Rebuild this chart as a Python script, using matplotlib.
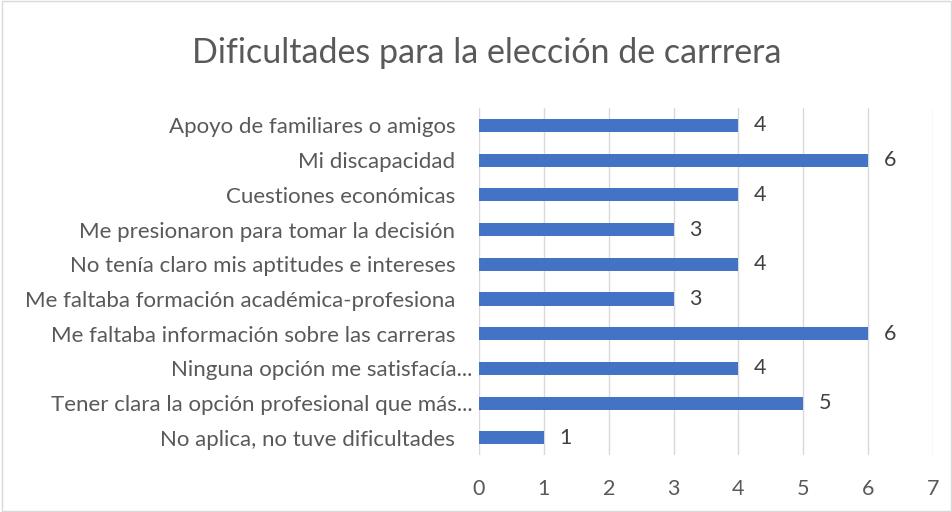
import matplotlib.pyplot as plt
import matplotlib.transforms as mtransforms

# Data
categories = [
    "Apoyo de familiares o amigos",
    "Mi discapacidad",
    "Cuestiones económicas",
    "Me presionaron para tomar la decisión",
    "No tenía claro mis aptitudes e intereses",
    "Me faltaba formación académica-profesiona",
    "Me faltaba información sobre las carreras",
    "Ninguna opción me satisfacía...",
    "Tener clara la opción profesional que más...",
    "No aplica, no tuve dificultades",
]
values = [4, 6, 4, 3, 4, 3, 6, 4, 5, 1]
xticks = [0, 1, 2, 3, 4, 5, 6, 7]

plt.rcParams['font.family'] = ['Lato', 'DejaVu Sans']

fig = plt.figure(figsize=(9.53, 5.12), dpi=100)
ax = fig.add_axes([0.5026, 0.111, 0.4764, 0.678])

y = list(range(len(categories)))
ax.barh(y, values, height=0.38, color='#4472C4', zorder=3)

for yi, v in zip(y, values):
    ax.text(v + 0.24, yi, str(v), va='center', ha='left', fontsize=15.5, color='#404040')

ax.set_ylim(len(categories) - 0.5, -0.5)
ax.set_xlim(0, 7)
ax.set_xticks(xticks)
ax.set_yticks(y)
ax.set_yticklabels(categories)
ax.tick_params(axis='y', length=0, pad=17, labelsize=16, labelcolor='#595959')
ax.tick_params(axis='x', length=0, pad=17, labelsize=15.5, labelcolor='#595959')
ax.grid(axis='x', color='#D9D9D9', linewidth=1, zorder=0)
for s in ax.spines.values():
    s.set_visible(False)

# truncated labels sit closer to the axis (as in Excel)
shift = mtransforms.ScaledTranslation(17 / 100, 0, fig.dpi_scale_trans)
for lab in ax.get_yticklabels():
    if lab.get_text().endswith('...'):
        lab.set_transform(lab.get_transform() + shift)

fig.text(0.511, 0.896, "Dificultades para la elección de carrrera", ha='center', va='center',
         fontsize=24.5, color='#595959')

# outer border
fig.patches.append(plt.Rectangle((0.002, 0.002), 0.996, 0.996, transform=fig.transFigure,
                                 fill=False, edgecolor='#D9D9D9', linewidth=1))

fig.savefig("out.png", dpi=100)
